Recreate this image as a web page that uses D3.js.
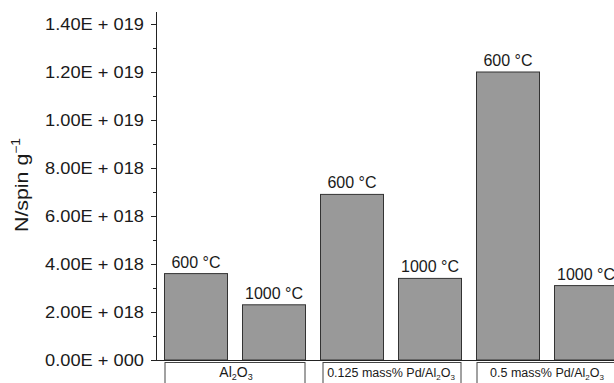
<!DOCTYPE html>
<html>
<head>
<meta charset="utf-8">
<script src="https://cdn.jsdelivr.net/npm/d3@7/dist/d3.min.js"></script>
<style>
  html, body { margin: 0; padding: 0; background: #fff; overflow: hidden; }
  svg { display: block; font-family: "Liberation Sans", Arial, Helvetica, sans-serif; }
</style>
</head>
<body>
<svg id="chart" width="614" height="383"></svg>
<script>
// Samples and calcination temperatures
const groups = ["Al2O3", "0.125 mass% Pd/Al2O3", "0.5 mass% Pd/Al2O3"];
const temps = ["600 °C", "1000 °C"];
// Spin concentration (N/spin g^-1) per sample, one array per temperature
const spins600 = [3.6e18, 6.9e18, 1.2e19];
const spins1000 = [2.3e18, 3.4e18, 3.1e18];
const yTicks = [0, 2e18, 4e18, 6e18, 8e18, 1e19, 1.2e19, 1.4e19];
const yMinorTicks = [1e18, 3e18, 5e18, 7e18, 9e18, 1.1e19, 1.3e19];

const bars = [];
groups.forEach((g, i) => {
  bars.push({ group: g, temp: temps[0], value: spins600[i], key: g + "|" + temps[0] });
  bars.push({ group: g, temp: temps[1], value: spins1000[i], key: g + "|" + temps[1] });
});

const svg = d3.select("#chart");
const axisX = 156, baseY = 360;

const x = d3.scaleBand()
  .domain(bars.map(d => d.key))
  .range([157, 625])
  .paddingInner(15 / 78)
  .paddingOuter(7.5 / 78);

const y = d3.scaleLinear().domain([0, 1.45e19]).range([baseY, 12]);

// "1.40E + 019" style labels
function sciFormat(v) {
  if (v === 0) return "0.00E + 000";
  const e = Math.floor(Math.log10(v) + 1e-9);
  const m = v / Math.pow(10, e);
  return m.toFixed(2) + "E + " + String(e).padStart(3, "0");
}

// Bars
svg.append("g").selectAll("rect")
  .data(bars)
  .join("rect")
  .attr("x", d => x(d.key))
  .attr("y", d => y(d.value))
  .attr("width", x.bandwidth())
  .attr("height", d => y(0) - y(d.value))
  .attr("fill", "#999999")
  .attr("stroke", "#333")
  .attr("stroke-width", 1);

// Temperature labels above bars
svg.append("g").selectAll("text")
  .data(bars)
  .join("text")
  .attr("x", d => x(d.key) + x.bandwidth() / 2)
  .attr("y", d => y(d.value) - 6)
  .attr("text-anchor", "middle")
  .attr("font-size", 16)
  .attr("fill", "#1a1a1a")
  .text(d => d.temp);

// Y axis
const yAxis = svg.append("g")
  .attr("transform", `translate(${axisX},0)`)
  .call(d3.axisLeft(y).tickValues(yTicks).tickFormat(sciFormat).tickSize(5).tickPadding(7));
yAxis.select(".domain").remove();
yAxis.selectAll("line").attr("stroke", "#222");
yAxis.selectAll("text")
  .attr("font-size", 16)
  .attr("fill", "#1a1a1a")
  .attr("font-family", "Liberation Sans, Arial, sans-serif")
  .each(function () {
    const len = this.getComputedTextLength();
    d3.select(this).attr("textLength", len * 1.14).attr("lengthAdjust", "spacingAndGlyphs");
  });

svg.append("g")
  .attr("transform", `translate(${axisX},0)`)
  .selectAll("line")
  .data(yMinorTicks)
  .join("line")
  .attr("x1", -3).attr("x2", 0)
  .attr("y1", d => y(d) + 0.5).attr("y2", d => y(d) + 0.5)
  .attr("stroke", "#222");

svg.append("line")
  .attr("x1", axisX + 0.5).attr("x2", axisX + 0.5)
  .attr("y1", y.range()[1]).attr("y2", baseY)
  .attr("stroke", "#222");

// X axis baseline
svg.append("line")
  .attr("x1", 151).attr("x2", 614)
  .attr("y1", baseY + 0.5).attr("y2", baseY + 0.5)
  .attr("stroke", "#222");

// Sample names with subscripted Al2O3
function addFormula(textSel, label, size) {
  const m = label.match(/(Al)(2)(O)(3)$/);
  const head = m ? label.slice(0, m.index) : label;
  textSel.append("tspan").text(head + (m ? "Al" : ""));
  if (m) {
    const sub = Math.round(size * 0.62);
    textSel.append("tspan").attr("font-size", sub).attr("dy", 3).text("2");
    textSel.append("tspan").attr("dy", -3).text("O");
    textSel.append("tspan").attr("font-size", sub).attr("dy", 3).text("3");
  }
}

// Sample boxes below the axis
const groupG = svg.append("g");
groups.forEach((g, i) => {
  const k0 = g + "|" + temps[0], k1 = g + "|" + temps[1];
  const x0 = x(k0) + (i === 1 ? 2 : 0), x1 = x(k1) + x.bandwidth();
  groupG.append("rect")
    .attr("x", x0 + 0.5).attr("y", 362.5)
    .attr("width", x1 - x0 - 1).attr("height", 40)
    .attr("fill", "#fff").attr("stroke", "#444").attr("stroke-width", 1);
  const size = i === 0 ? 14 : 12.5;
  const t = groupG.append("text")
    .attr("x", (x(k0) + x1) / 2 + (i === 0 ? 1 : 0))
    .attr("y", 376.5)
    .attr("text-anchor", "middle")
    .attr("font-size", size)
    .attr("fill", "#1a1a1a");
  addFormula(t, g, size);
});

// Y axis title
const yt = svg.append("text")
  .attr("transform", "translate(28,185) rotate(-90)")
  .attr("text-anchor", "middle")
  .attr("font-size", 18.5)
  .attr("fill", "#1a1a1a")
  .attr("textLength", 94)
  .attr("lengthAdjust", "spacingAndGlyphs");
yt.append("tspan").text("N/spin g");
yt.append("tspan").attr("font-size", 12).attr("dy", -8).text("−1");
</script>
</body>
</html>
